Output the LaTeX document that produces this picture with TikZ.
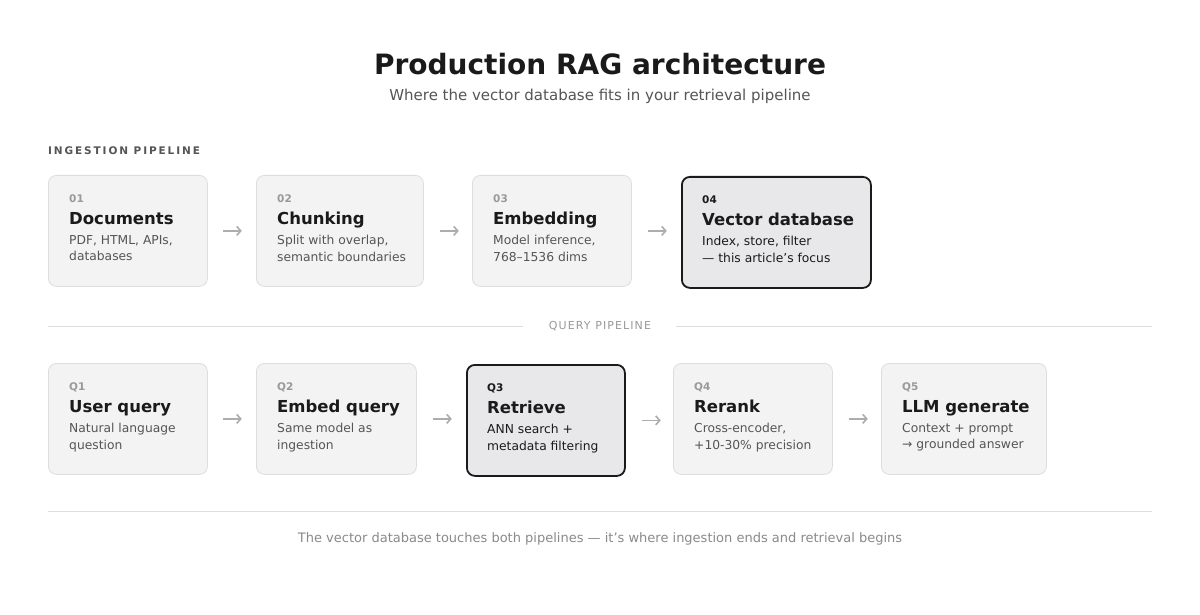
\documentclass[tikz,border=0pt]{standalone}
\usepackage{fontspec}
\setmainfont{DejaVu Sans}
\usetikzlibrary{positioning,arrows.meta}
\definecolor{boxfill}{HTML}{F3F3F3}
\definecolor{boxline}{HTML}{DDDDDD}
\definecolor{hifill}{HTML}{E8E8EA}
\definecolor{ink}{HTML}{1A1A1A}
\definecolor{numgray}{HTML}{999999}
\definecolor{descgray}{HTML}{555555}
\definecolor{rulegray}{HTML}{DDDDDD}
\tikzset{
  stage/.style={draw=boxline, fill=boxfill, rounded corners=8pt, line width=0.8pt,
    anchor=north west, minimum height=111pt, inner sep=0pt},
  focus/.style={stage, draw=ink, fill=hifill, line width=1.8pt},
  num/.style={anchor=north west, font=\fontsize{10.5}{12}\selectfont\bfseries, text=numgray, inner sep=0pt},
  title/.style={anchor=north west, font=\fontsize{16.5}{19}\selectfont\bfseries, text=ink, inner sep=0pt},
  desc/.style={anchor=north west, font=\fontsize{12.3}{16.5}\selectfont, text=descgray, align=left, inner sep=0pt},
  flow/.style={-{Straight Barb[length=4pt,width=9pt]}, draw=numgray!80, line width=1.6pt},
}
\newcommand{\stagebox}[8]{% name, style, x, y, width, number, title, description
  \node[#2, minimum width=#5pt] (#1) at (#3,#4) {};
  \node[num] (#1-num) at (#3+21,#4+20) {#6};
  \node[title] (#1-title) at (#3+21,#4+37) {#7};
  \node[desc] (#1-desc) at (#3+21,#4+60) {#8};
}
\begin{document}
\begin{tikzpicture}[x=1pt, y=-1pt]
  \useasboundingbox[fill=white] (0,0) rectangle (1200,615);

  % Heading
  \node[font=\fontsize{28}{32}\selectfont\bfseries, text=ink] (head) at (600,64) {Production RAG architecture};
  \node[font=\fontsize{15}{18}\selectfont, text=descgray] (sub) at (600,96) {Where the vector database fits in your retrieval pipeline};

  % Ingestion pipeline
  \node[anchor=west, inner sep=0pt, text=descgray, font=\fontsize{10.5}{12}\selectfont\bfseries\addfontfeature{LetterSpace=18}] (inglabel) at (48,151) {INGESTION PIPELINE};
  \stagebox{docs}{stage}{48}{175}{159}{01}{Documents}{PDF, HTML, APIs,\\databases}
  \stagebox{chunk}{stage}{256}{175}{167}{02}{Chunking}{Split with overlap,\\semantic boundaries}
  \stagebox{embed}{stage}{472}{175}{159}{03}{Embedding}{Model inference,\\768–1536 dims}
  \stagebox{vdb}{focus}{681}{176}{189}{\textcolor{ink}{04}}{Vector database}{\textcolor{ink}{Index, store, filter}\\\textcolor{ink}{— this article's focus}}
  \draw[flow] (docs.east)++(15,0) -- ++(19,0);
  \draw[flow] (chunk.east)++(16,0) -- ++(19,0);
  \draw[flow] (embed.east)++(16,0) -- ++(19,0);

  % Query pipeline separator
  \node[text=numgray, font=\fontsize{11}{13}\selectfont\addfontfeature{LetterSpace=10}] (qlabel) at (600,326) {QUERY PIPELINE};
  \coordinate (selL) at (48,326);
  \coordinate (selR) at (1152,326);
  \draw[rulegray, line width=0.8pt] (selL) -- (523,326);
  \draw[rulegray, line width=0.8pt] (676,326) -- (selR);

  % Query pipeline
  \stagebox{q1}{stage}{48}{363}{159}{Q1}{User query}{Natural language\\question}
  \stagebox{q2}{stage}{256}{363}{160}{Q2}{Embed query}{Same model as\\ingestion}
  \stagebox{q3}{focus}{466}{364}{158}{\textcolor{ink}{Q3}}{Retrieve}{\textcolor{ink}{ANN search +}\\\textcolor{ink}{metadata filtering}}
  \stagebox{q4}{stage}{673}{363}{159}{Q4}{Rerank}{Cross-encoder,\\+10-30\% precision}
  \stagebox{q5}{stage}{881}{363}{165}{Q5}{LLM generate}{Context + prompt\\→ grounded answer}
  \draw[flow] (q1.east)++(15,0) -- ++(19,0);
  \draw[flow] (q2.east)++(16,0) -- ++(19,0);
  \draw[flow] (q3.east)++(16,0) -- ++(19,0);
  \draw[flow] (q4.east)++(16,0) -- ++(19,0);

  % Footer
  \draw[rulegray, line width=0.8pt] (48,511) -- (1152,511);
  \node[text=numgray!90!black, font=\fontsize{13}{16}\selectfont] (foot) at (600,539) {The vector database touches both pipelines — it's where ingestion ends and retrieval begins};
\end{tikzpicture}
\end{document}
